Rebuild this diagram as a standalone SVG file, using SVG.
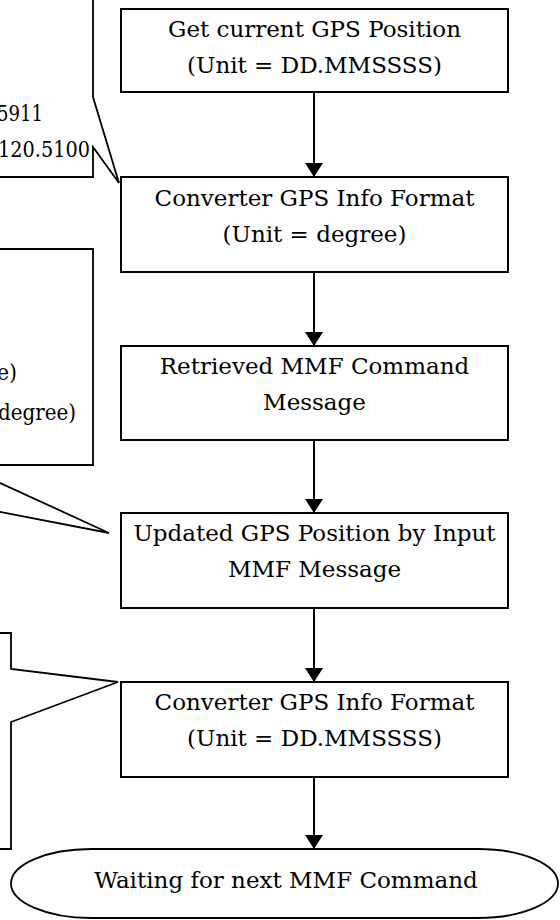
<svg xmlns="http://www.w3.org/2000/svg" width="560" height="920" viewBox="0 0 560 920">
<defs>
<style>
.box{fill:#fff;stroke:#000;stroke-width:2}
.call{fill:#fff;stroke:#000;stroke-width:1.8;stroke-linejoin:miter}
.cline{fill:none;stroke:#000;stroke-width:1.8}
.t{font-family:"DejaVu Serif","Liberation Serif",serif;font-size:23px;fill:#000;text-anchor:middle}
.te{font-family:"DejaVu Serif","Liberation Serif",serif;font-size:23px;fill:#000;text-anchor:end}
.edge{stroke:#000;stroke-width:2;fill:none;marker-end:url(#arr)}
</style>
<marker id="arr" viewBox="0 0 14 18" refX="14" refY="9" markerWidth="14" markerHeight="18" markerUnits="userSpaceOnUse" orient="auto">
<path d="M0,0 L14,9 L0,18 z" fill="#000"/>
</marker>
</defs>
<rect width="560" height="920" fill="#fff"/>

<g id="callout1">
<path class="call" d="M-5,-5 L93,-5 L93,97 L119,183 L93,147 L93,177 L-5,177 Z"/>
<text class="te" x="43" y="121" textLength="46" lengthAdjust="spacingAndGlyphs">5911</text>
<text class="te" x="90" y="157" textLength="92" lengthAdjust="spacingAndGlyphs">120.5100</text>
</g>

<g id="callout2">
<path class="call" d="M-300,249 L93,249 L93,465 L-39,465 L109,533 L-243,465 L-300,465 Z"/>
<text class="te" x="17" y="380" textLength="20" lengthAdjust="spacingAndGlyphs">e)</text>
<text class="te" x="76" y="420" textLength="78" lengthAdjust="spacingAndGlyphs">degree)</text>
</g>

<g id="callout3">
<path class="call" d="M-5,633 L11,633 L11,669 L118,682 L11,722 L11,849 L-5,849 Z"/>
</g>

<g id="connectors">
<line class="edge" x1="314" y1="92" x2="314" y2="177"/>
<line class="edge" x1="314" y1="272" x2="314" y2="346"/>
<line class="edge" x1="314" y1="440" x2="314" y2="513"/>
<line class="edge" x1="314" y1="608" x2="314" y2="682"/>
<line class="edge" x1="314" y1="777" x2="314" y2="849"/>
</g>

<g id="n1">
<rect class="box" x="121" y="9" width="387" height="83"/>
<text class="t" x="314.5" y="37">Get current GPS Position</text>
<text class="t" x="314.5" y="73">(Unit = DD.MMSSSS)</text>
</g>
<g id="n2">
<rect class="box" x="121" y="177" width="387" height="95"/>
<text class="t" x="314.5" y="206">Converter GPS Info Format</text>
<text class="t" x="314.5" y="242">(Unit = degree)</text>
</g>
<g id="n3">
<rect class="box" x="121" y="346" width="387" height="94"/>
<text class="t" x="314.5" y="374">Retrieved MMF Command</text>
<text class="t" x="314.5" y="410">Message</text>
</g>
<g id="n4">
<rect class="box" x="121" y="513" width="387" height="95"/>
<text class="t" x="314.5" y="541">Updated GPS Position by Input</text>
<text class="t" x="314.5" y="577">MMF Message</text>
</g>
<g id="n5">
<rect class="box" x="121" y="682" width="387" height="95"/>
<text class="t" x="314.5" y="710">Converter GPS Info Format</text>
<text class="t" x="314.5" y="746">(Unit = DD.MMSSSS)</text>
</g>
<g id="n6">
<rect class="box" x="11" y="849" width="547" height="69" rx="80" ry="34.5" style="stroke-width:1.8"/>
<text class="t" x="286" y="888">Waiting for next MMF Command</text>
</g>
</svg>
